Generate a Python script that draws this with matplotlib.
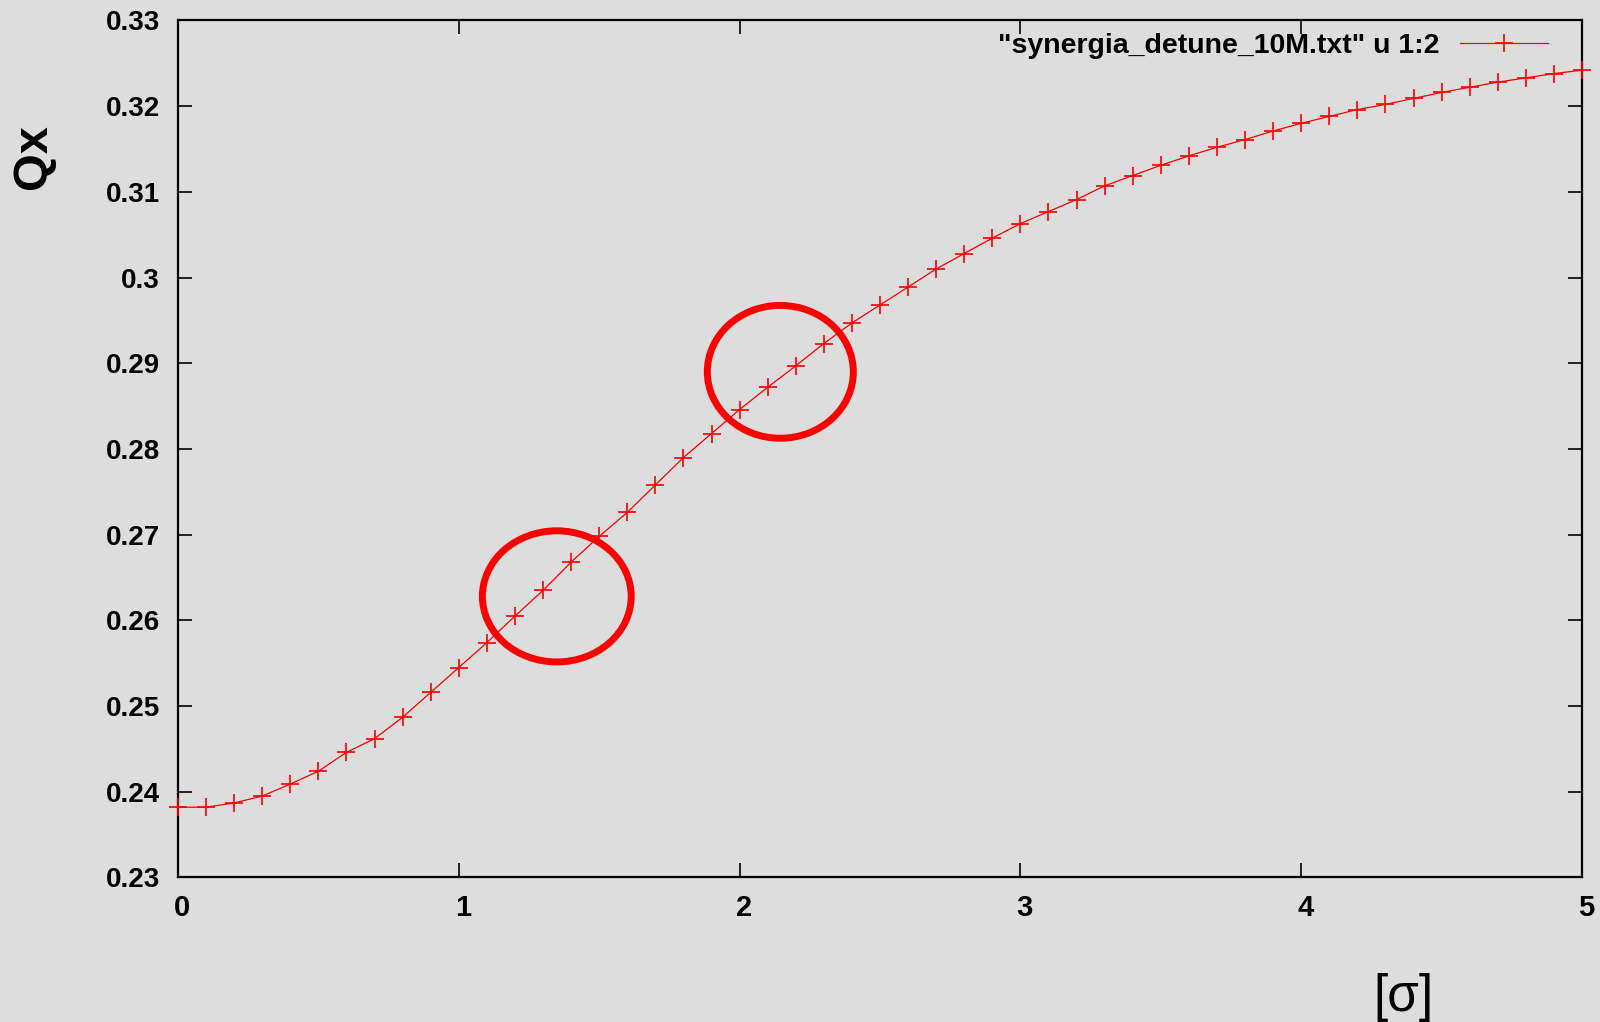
import numpy as np
import matplotlib
matplotlib.use('Agg')
import matplotlib.pyplot as plt
import matplotlib.transforms as mtransforms
from matplotlib.patches import Ellipse

# beam size in sigma, tune Qx from synergia_detune_10M.txt (columns 1:2)
sigma = [0.0, 0.1, 0.2, 0.3, 0.4, 0.5, 0.6, 0.7, 0.8, 0.9,
         1.0, 1.1, 1.2, 1.3, 1.4, 1.5, 1.6, 1.7, 1.8, 1.9,
         2.0, 2.1, 2.2, 2.3, 2.4, 2.5, 2.6, 2.7, 2.8, 2.9,
         3.0, 3.1, 3.2, 3.3, 3.4, 3.5, 3.6, 3.7, 3.8, 3.9,
         4.0, 4.1, 4.2, 4.3, 4.4, 4.5, 4.6, 4.7, 4.8, 4.9, 5.0]
qx = [0.2382, 0.2382, 0.2387, 0.2395, 0.2409, 0.2424, 0.2446, 0.2462, 0.2487, 0.2516,
      0.2545, 0.2574, 0.2605, 0.2635, 0.2668, 0.2698, 0.2726, 0.2758, 0.2790, 0.2818,
      0.2846, 0.2872, 0.2897, 0.2923, 0.2947, 0.2968, 0.2989, 0.3010, 0.3028, 0.3046,
      0.3063, 0.3077, 0.3091, 0.3107, 0.3119, 0.3131, 0.3142, 0.3152, 0.3161, 0.3171,
      0.3180, 0.3188, 0.3196, 0.3202, 0.3209, 0.3216, 0.3222, 0.3228, 0.3233, 0.3238, 0.3242]

xticks = [0, 1, 2, 3, 4, 5]
yticks = [0.23, 0.24, 0.25, 0.26, 0.27, 0.28, 0.29, 0.30, 0.31, 0.32, 0.33]

# highlighted regions (centre x, centre y, width, height)
circles = [(1.349, 0.2628, 0.53, 0.0153),
           (2.145, 0.2890, 0.52, 0.0155)]

bg = '#dddddd'
plt.rcParams['font.family'] = ['Liberation Sans', 'DejaVu Sans']

fig = plt.figure(figsize=(16, 10.22), dpi=100, facecolor=bg)
ax = fig.add_axes([0.11125, 0.1414, 0.8775, 0.8386], facecolor=bg)

ax.plot(sigma, qx, color='red', lw=0.9, marker='+', ms=12.5, mew=1.2,
        label='"synergia_detune_10M.txt" u 1:2', clip_on=False, zorder=3)

for cx, cy, w, h in circles:
    ax.add_patch(Ellipse((cx, cy), w, h, fill=False, ec='red', lw=5, zorder=4))

ax.set_xlim(0, 5)
ax.set_ylim(0.23, 0.33)
ax.set_xticks(xticks)
ax.set_yticks(yticks)
ax.set_xticklabels([f'{v:g}' for v in xticks])
ax.set_yticklabels([f'{v:g}' for v in yticks])
ax.tick_params(direction='in', length=10, width=1.2, top=True, right=True)
ax.tick_params(axis='y', pad=13, labelsize=20)
ax.tick_params(axis='x', pad=12, labelsize=21)
# gnuplot puts the x labels a little right of their ticks
shift = mtransforms.ScaledTranslation(4 / 100, 0, fig.dpi_scale_trans)
for lab in ax.get_xticklabels():
    lab.set_transform(lab.get_transform() + shift)
for lab in ax.get_xticklabels() + ax.get_yticklabels():
    lab.set_fontweight('bold')
for sp in ax.spines.values():
    sp.set_linewidth(1.6)

leg = ax.legend(loc='upper right', bbox_to_anchor=(0.984, 0.999), frameon=False,
                markerfirst=False, handlelength=3.1, handletextpad=0.7,
                prop={'weight': 'bold', 'size': 20.5}, borderaxespad=0)

fig.text(0.021, 1 - 157 / 1022, 'Qx', rotation=90, fontsize=35, fontweight='bold',
         ha='center', va='center')
fig.text(1403 / 1600, 1 - 997 / 1022, '[σ]', fontsize=37, ha='center', va='center')

fig.savefig('out.png', dpi=100, facecolor=bg)
